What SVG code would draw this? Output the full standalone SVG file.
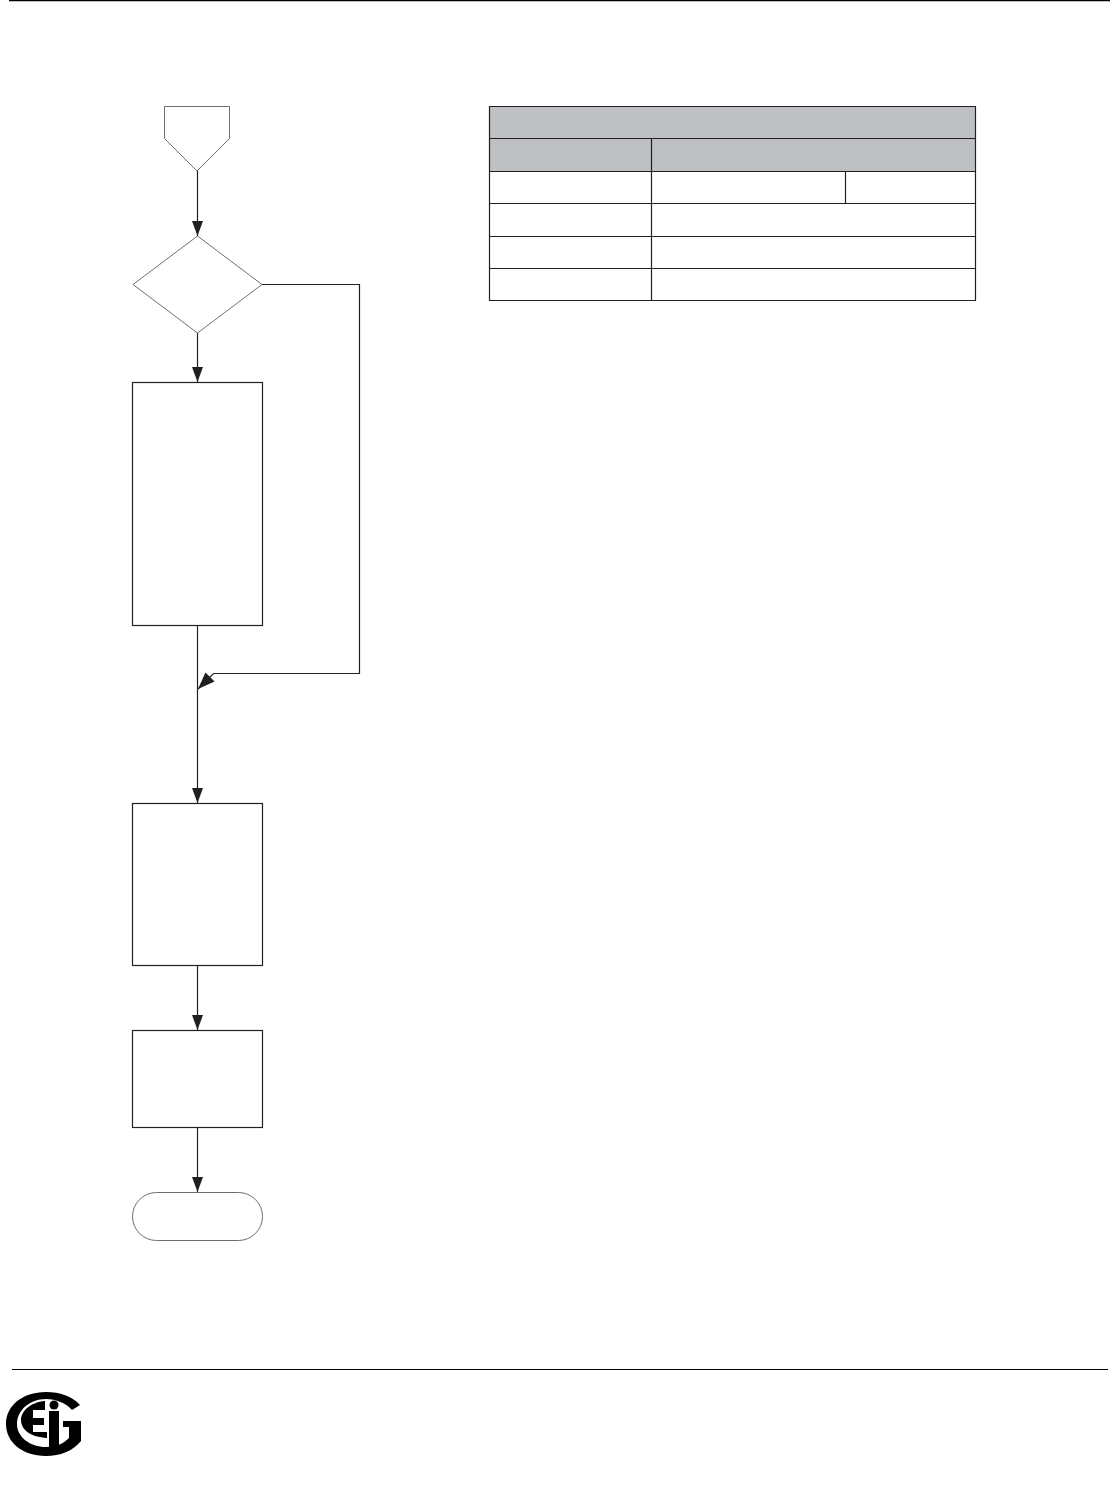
<svg xmlns="http://www.w3.org/2000/svg" width="1110" height="1495" viewBox="0 0 1110 1495">
<defs>
<style>
.shape{fill:#fff;stroke:#6e6e70;stroke-width:1}
.box{fill:#fff;stroke:#231f20;stroke-width:1.2}
.conn{fill:none;stroke:#231f20;stroke-width:1.2}
.grid{fill:none;stroke:#231f20;stroke-width:1.2}
.head{fill:#bfc0c4}
</style>
<marker id="arrow" viewBox="0 0 15 11" refX="15" refY="5.500" markerWidth="15" markerHeight="11" markerUnits="userSpaceOnUse" orient="auto"><path d="M0 0L15 5.500L0 11Z" fill="#231f20"/></marker>
<marker id="arrow-large" viewBox="0 0 17 13" refX="17" refY="6.500" markerWidth="17" markerHeight="13" markerUnits="userSpaceOnUse" orient="auto"><path d="M0 0L17 6.500L0 13Z" fill="#231f20"/></marker>
</defs>
<rect width="1110" height="1495" fill="#fff"/>
<g id="page-rules"><path d="M9 0.5H1110" stroke="#000" stroke-width="1.4"/><path d="M12 1369.500H1108" stroke="#000" stroke-width="1.2"/></g>
<g id="node-start"><path class="shape" d="M164.500 106.500H229.500V138.500L197 171L164.500 138.500Z"/></g>
<g id="node-decision"><path class="shape" d="M197.500 236L262 284.500L197.500 333L133 284.500Z"/></g>
<g id="node-step1"><rect class="box" x="132.500" y="382.500" width="130" height="243"/></g>
<g id="node-step2"><rect class="box" x="132.500" y="803.500" width="130" height="162"/></g>
<g id="node-step3"><rect class="box" x="132.500" y="1030.500" width="130" height="97"/></g>
<g id="node-end"><rect class="shape" x="132.500" y="1192.500" width="130" height="48" rx="24" ry="24"/></g>
<g id="connectors">
<path class="conn" d="M197.500 171V236" marker-end="url(#arrow)"/>
<path class="conn" d="M197.500 333V382" marker-end="url(#arrow)"/>
<path class="conn" d="M262 284.500H359.500V673.500H213.500L198 689" marker-end="url(#arrow-large)"/>
<path class="conn" d="M197.500 626V803" marker-end="url(#arrow)"/>
<path class="conn" d="M197.500 965V1030" marker-end="url(#arrow)"/>
<path class="conn" d="M197.500 1128V1192" marker-end="url(#arrow)"/>
</g>
<g id="table">
<rect class="head" x="489.500" y="106" width="486" height="66"/>
<path class="grid" d="M489.500 106.500H975.500V300.500H489.500ZM489.500 138.500H975.500M489.500 171.500H975.500M489.500 203.500H975.500M489.500 236.500H975.500M489.500 268.500H975.500M651.500 138.500V300.500M845.500 171.500V203.500"/>
</g>
<g id="logo">
<path d="M80 1405C72 1396 60 1392 46 1392C22 1392 6 1406 6 1424C6 1442 22 1456 46 1456C60 1456 73 1451 81 1441V1421H63V1427H69V1438C63 1444 56 1447 46 1447C30 1447 17 1437 17 1424C17 1410 30 1399 46 1399C56 1399 66 1403 72 1410Z" fill="#000"/>
<path d="M45 1401C31 1402 21 1411 21 1420C21 1430 31 1437 47 1438V1432H33V1425H44V1418H33V1410H45Z" fill="#000"/>
<circle cx="54" cy="1405" r="4.500" fill="#000"/>
<rect x="49" y="1411" width="10" height="36" fill="#000"/>
</g>
</svg>
